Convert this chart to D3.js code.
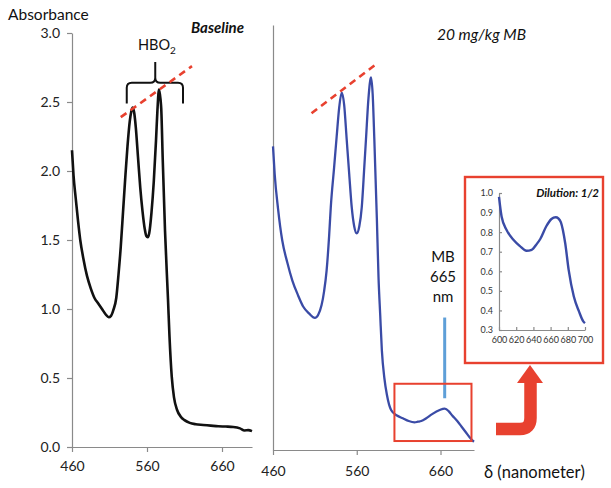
<!DOCTYPE html>
<html>
<head>
<meta charset="utf-8">
<script src="https://cdn.jsdelivr.net/npm/d3@7"></script>
<style>
  html, body { margin: 0; padding: 0; background: #fff; }
  svg { display: block; font-family: Lato, "Open Sans", sans-serif; }
</style>
</head>
<body>
<svg id="chart" width="611" height="488"></svg>
<script>
// ---------------- DATA ----------------
// Baseline spectrum [wavelength nm, absorbance]
const baselineSpectrum = [
  [460,2.15],[462,1.97],[465,1.80],[468,1.64],[471,1.50],[475,1.37],[480,1.24],[485,1.15],
  [490,1.08],[495,1.04],[500,1.00],[505,0.96],[509,0.94],[512,0.95],[515,0.99],[519,1.08],
  [522,1.25],[525,1.45],[528,1.70],[531,1.95],[534,2.18],[537,2.36],[539,2.43],[541,2.46],
  [543,2.42],[545,2.32],[548,2.10],[551,1.88],[554,1.71],[557,1.58],[559,1.53],[561,1.52],
  [563,1.55],[566,1.70],[569,1.92],[572,2.22],[574,2.45],[576,2.59],[578,2.52],[579,2.45],
  [581,2.08],[584,1.57],[588,1.07],[590,0.80],[593,0.51],[596,0.36],[600,0.27],[605,0.22],
  [610,0.195],[617,0.175],[625,0.165],[635,0.16],[645,0.155],[655,0.15],[665,0.148],
  [675,0.145],[684,0.135],[690,0.12],[695,0.122],[700,0.115]
];
// 20 mg/kg MB spectrum
const mbSpectrum = [
  [460,2.20],[462,2.00],[466,1.75],[471,1.52],[477,1.36],[483,1.23],[490,1.12],[496,1.04],
  [503,0.99],[510,0.957],[514,0.98],[518,1.05],[521,1.15],[524,1.30],[527,1.55],[529,1.76],
  [533,2.05],[536,2.27],[539,2.48],[542,2.59],[545,2.50],[548,2.25],[551,2.00],[554,1.76],
  [557,1.62],[560,1.57],[563,1.62],[566,1.76],[569,2.05],[571,2.25],[574,2.55],[577,2.70],
  [579,2.58],[581,2.25],[584,1.68],[586,1.25],[588,0.98],[590,0.72],[593,0.52],[596,0.40],
  [601,0.29],[608,0.25],[615,0.23],[622,0.21],[629,0.20],[633,0.205],[637,0.21],[643,0.23],
  [650,0.26],[659,0.29],[665,0.30],[670,0.28],[674,0.25],[680,0.21],[685,0.17],[690,0.13],
  [695,0.09],[698,0.07],[700,0.06]
];
// Inset: dilution 1/2, 600-700 nm
const insetSpectrum = [
  [600,0.98],[603,0.88],[609,0.81],[617,0.76],[624,0.73],[632,0.705],[638,0.71],[644,0.74],
  [648,0.765],[655,0.83],[661,0.867],[666,0.876],[669,0.87],[672,0.85],[677,0.743],
  [681,0.607],[687,0.471],[693,0.395],[698,0.344],[700,0.335]
];
const yTicksMain = [0, 0.5, 1.0, 1.5, 2.0, 2.5, 3.0];
const xTicksMain = [460, 560, 660];
const yTicksInset = [0.3, 0.4, 0.5, 0.6, 0.7, 0.8, 0.9, 1.0];
const xTicksInset = [600, 620, 640, 660, 680, 700];

// ---------------- SCALES ----------------
const svg = d3.select("#chart");
const axisColor = "#8a8a8a";
const red = "#e8412f";

const xL = d3.scaleLinear().domain([460, 700]).range([72, 252]);
const yL = d3.scaleLinear().domain([0, 3]).range([447, 33]);
const xR = d3.scaleLinear().domain([460, 700]).range([273, 474]);
const yR = d3.scaleLinear().domain([0, 3.08]).range([450, 25]);
const xI = d3.scaleLinear().domain([600, 700]).range([499, 585]);
const yI = d3.scaleLinear().domain([0.3, 1.0]).range([330, 193]);

function styleAxis(g, fs) {
  g.select(".domain").attr("stroke", axisColor).attr("stroke-width", 1.2);
  g.selectAll(".tick line").attr("stroke", axisColor).attr("stroke-width", 1.2);
  g.selectAll(".tick text").attr("fill", "#222").style("font-size", fs + "px")
    .style("font-family", "Lato, 'Open Sans', sans-serif");
}

// ---------------- LEFT PANEL ----------------
const gLy = svg.append("g").attr("transform", `translate(${xL(460)},0)`)
  .call(d3.axisLeft(yL).tickValues(yTicksMain).tickFormat(d3.format(".1f"))
    .tickSize(5).tickSizeOuter(0).tickPadding(7));
styleAxis(gLy, 14);
const gLx = svg.append("g").attr("transform", `translate(0,${yL(0)})`)
  .call(d3.axisBottom(xL).tickValues(xTicksMain).tickSize(5).tickSizeOuter(0).tickPadding(9));
styleAxis(gLx, 14);

const line = (xs, ys) => d3.line().x(d => xs(d[0])).y(d => ys(d[1])).curve(d3.curveMonotoneX);

svg.append("path").datum(baselineSpectrum)
  .attr("d", line(xL, yL)).attr("fill", "none")
  .attr("stroke", "#111").attr("stroke-width", 2.6).attr("stroke-linejoin", "round");

// ---------------- RIGHT PANEL ----------------
const gRy = svg.append("g").attr("transform", `translate(${xR(460)},0)`)
  .call(d3.axisLeft(yR).tickValues([]).tickSizeOuter(0));
styleAxis(gRy, 14);
const gRx = svg.append("g").attr("transform", `translate(0,${yR(0)})`)
  .call(d3.axisBottom(xR).tickValues(xTicksMain).tickSize(5).tickSizeOuter(0).tickPadding(11));
styleAxis(gRx, 14);

svg.append("path").datum(mbSpectrum)
  .attr("d", line(xR, yR)).attr("fill", "none")
  .attr("stroke", "#3a4ba6").attr("stroke-width", 2.3).attr("stroke-linejoin", "round");

// ---------------- TEXT ----------------
svg.append("text").attr("x", 8).attr("y", 20).text("Absorbance")
  .style("font-size", "15.5px").attr("fill", "#111");
svg.append("text").attr("x", 191).attr("y", 33).text("Baseline")
  .style("font-size", "15px").style("font-style", "italic").style("font-weight", "bold").attr("fill", "#111");
svg.append("text").attr("x", 437).attr("y", 40).text("20 mg/kg MB")
  .style("font-size", "15.5px").style("font-style", "italic").attr("fill", "#111");
const hbo = svg.append("text").attr("x", 138).attr("y", 50).style("font-size", "14.5px").attr("fill", "#111");
hbo.append("tspan").text("HBO");
hbo.append("tspan").text("2").attr("dy", 4).style("font-size", "10px");

// HBO2 brace
(function () {
  const x1 = xL(533), x2 = xL(608), xm = xL(571);
  const yb = yL(2.49), ym = yL(2.64), yt = yL(2.79);
  const r = 5;
  const p = `M${x1},${yb} L${x1},${ym + r} Q${x1},${ym} ${x1 + r},${ym} L${xm - r},${ym} Q${xm},${ym} ${xm},${ym - r} L${xm},${yt}
             M${xm},${ym - r} Q${xm},${ym} ${xm + r},${ym} L${x2 - r},${ym} Q${x2},${ym} ${x2},${ym + r} L${x2},${yb}`;
  svg.append("path").attr("d", p).attr("fill", "none").attr("stroke", "#111").attr("stroke-width", 2);
})();

// Red dashed tangent lines
svg.append("line").attr("x1", xL(525)).attr("y1", yL(2.39)).attr("x2", xL(620)).attr("y2", yL(2.76))
  .attr("stroke", red).attr("stroke-width", 2.6).attr("stroke-dasharray", "7,5");
svg.append("line").attr("x1", xR(506)).attr("y1", yR(2.44)).attr("x2", xR(584)).attr("y2", yR(2.80))
  .attr("stroke", red).attr("stroke-width", 2.6).attr("stroke-dasharray", "7,5");

// MB 665 nm marker
svg.append("line").attr("x1", xR(665)).attr("x2", xR(665)).attr("y1", yR(0.96)).attr("y2", yR(0.375))
  .attr("stroke", "#5e9fd8").attr("stroke-width", 3);
["MB", "665", "nm"].forEach((t, i) => {
  svg.append("text").attr("x", 443).attr("y", 262 + i * 20).attr("text-anchor", "middle")
    .text(t).style("font-size", "15px").attr("fill", "#111");
});

// small red box around the MB band
svg.append("rect").attr("x", xR(605)).attr("y", yR(0.48))
  .attr("width", xR(697) - xR(605)).attr("height", yR(0.065) - yR(0.48))
  .attr("fill", "none").attr("stroke", red).attr("stroke-width", 2);

// x-axis title
svg.append("text").attr("x", 484).attr("y", 478).text("δ (nanometer)")
  .style("font-size", "16.5px").attr("fill", "#111");

// ---------------- INSET ----------------
svg.append("rect").attr("x", 465).attr("y", 177).attr("width", 138).attr("height", 186)
  .attr("fill", "#fff").attr("stroke", red).attr("stroke-width", 2.4);
const gIy = svg.append("g").attr("transform", `translate(${xI(600)},0)`)
  .call(d3.axisLeft(yI).tickValues(yTicksInset).tickFormat(d3.format(".1f"))
    .tickSizeInner(-3).tickSizeOuter(0).tickPadding(6));
styleAxis(gIy, 9);
const gIx = svg.append("g").attr("transform", `translate(0,${yI(0.3)})`)
  .call(d3.axisBottom(xI).tickValues(xTicksInset).tickSizeInner(-3).tickSizeOuter(0).tickPadding(7));
styleAxis(gIx, 9);
gIy.selectAll(".tick text").attr("fill", "#333");
gIx.selectAll(".tick text").attr("fill", "#333");
svg.append("path").datum(insetSpectrum)
  .attr("d", line(xI, yI)).attr("fill", "none")
  .attr("stroke", "#3a4ba6").attr("stroke-width", 2.4).attr("stroke-linejoin", "round");
svg.append("text").attr("x", 599).attr("y", 197).attr("text-anchor", "end").text("Dilution: 1/2")
  .style("font-size", "11.5px").style("font-style", "italic").style("font-weight", "bold").attr("fill", "#111");

// ---------------- RED BENT ARROW ----------------
svg.append("path").attr("d", "M496,429 L520,429 Q530.5,429 530.5,418 L530.5,382")
  .attr("fill", "none").attr("stroke", red).attr("stroke-width", 12.5);
svg.append("path").attr("d", "M517,383 L543,383 L530,365 Z").attr("fill", red);
</script>
</body>
</html>
